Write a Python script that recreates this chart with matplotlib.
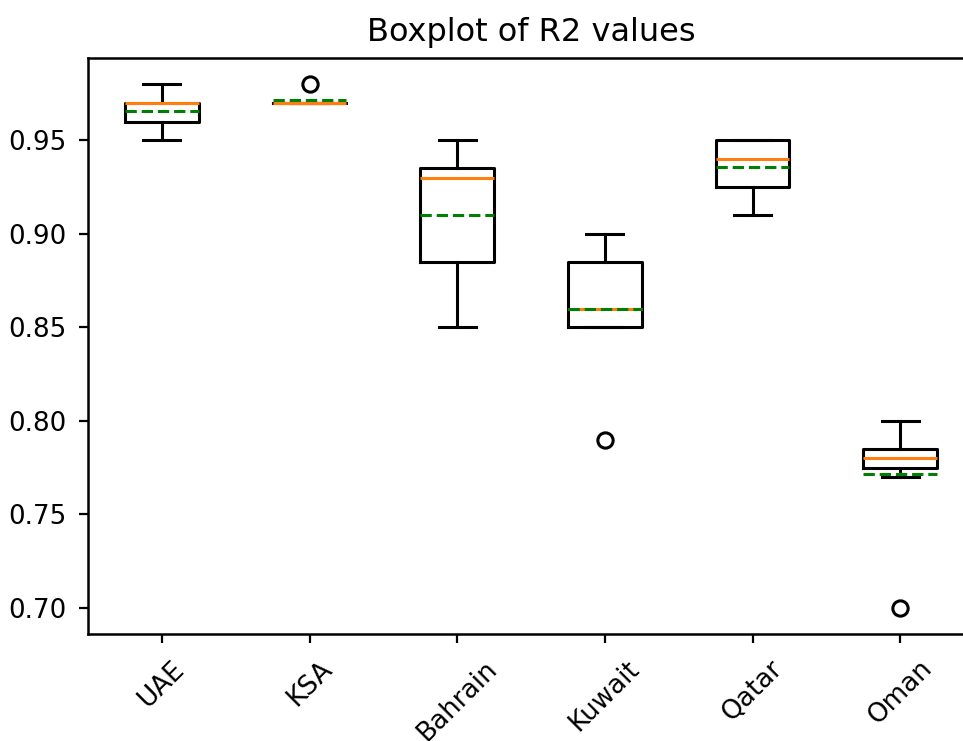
import numpy as np
import matplotlib.pyplot as plt

countries = ['UAE', 'KSA', 'Bahrain', 'Kuwait', 'Qatar', 'Oman']

# R2 scores per country
uae = [0.95, 0.96, 0.96, 0.97, 0.97, 0.97, 0.98]
ksa = [0.97, 0.97, 0.97, 0.97, 0.97, 0.97, 0.98]
bahrain = [0.85, 0.87, 0.90, 0.93, 0.93, 0.94, 0.95]
kuwait = [0.79, 0.85, 0.85, 0.86, 0.88, 0.89, 0.90]
qatar = [0.91, 0.92, 0.93, 0.94, 0.95, 0.95, 0.95]
oman = [0.70, 0.77, 0.78, 0.78, 0.78, 0.79, 0.80]

data = [uae, ksa, bahrain, kuwait, qatar, oman]

fig = plt.figure(figsize=(9.63, 7.41), dpi=100)
ax = fig.add_axes([88/963, 107/741, 886/963, 576/741])

lw = 2.2
ax.boxplot(data, showmeans=True, meanline=True,
           boxprops=dict(linewidth=lw),
           whiskerprops=dict(linewidth=lw),
           capprops=dict(linewidth=lw),
           medianprops=dict(linewidth=lw, color='#ff7f0e'),
           meanprops=dict(linewidth=lw, color='green', linestyle='--'),
           flierprops=dict(marker='o', markersize=11, markeredgewidth=2.2,
                           markerfacecolor='none', markeredgecolor='black'))

ax.set_xticks(np.arange(1, len(countries) + 1))
ax.set_xticklabels(countries, rotation=45)
ax.tick_params(labelsize=18.8, length=6.5, width=1.6, pad=9)
for s in ax.spines.values():
    s.set_linewidth(1.8)
ax.set_title('Boxplot of R2 values', fontsize=23, pad=12)

plt.savefig('out.png', dpi=100)
